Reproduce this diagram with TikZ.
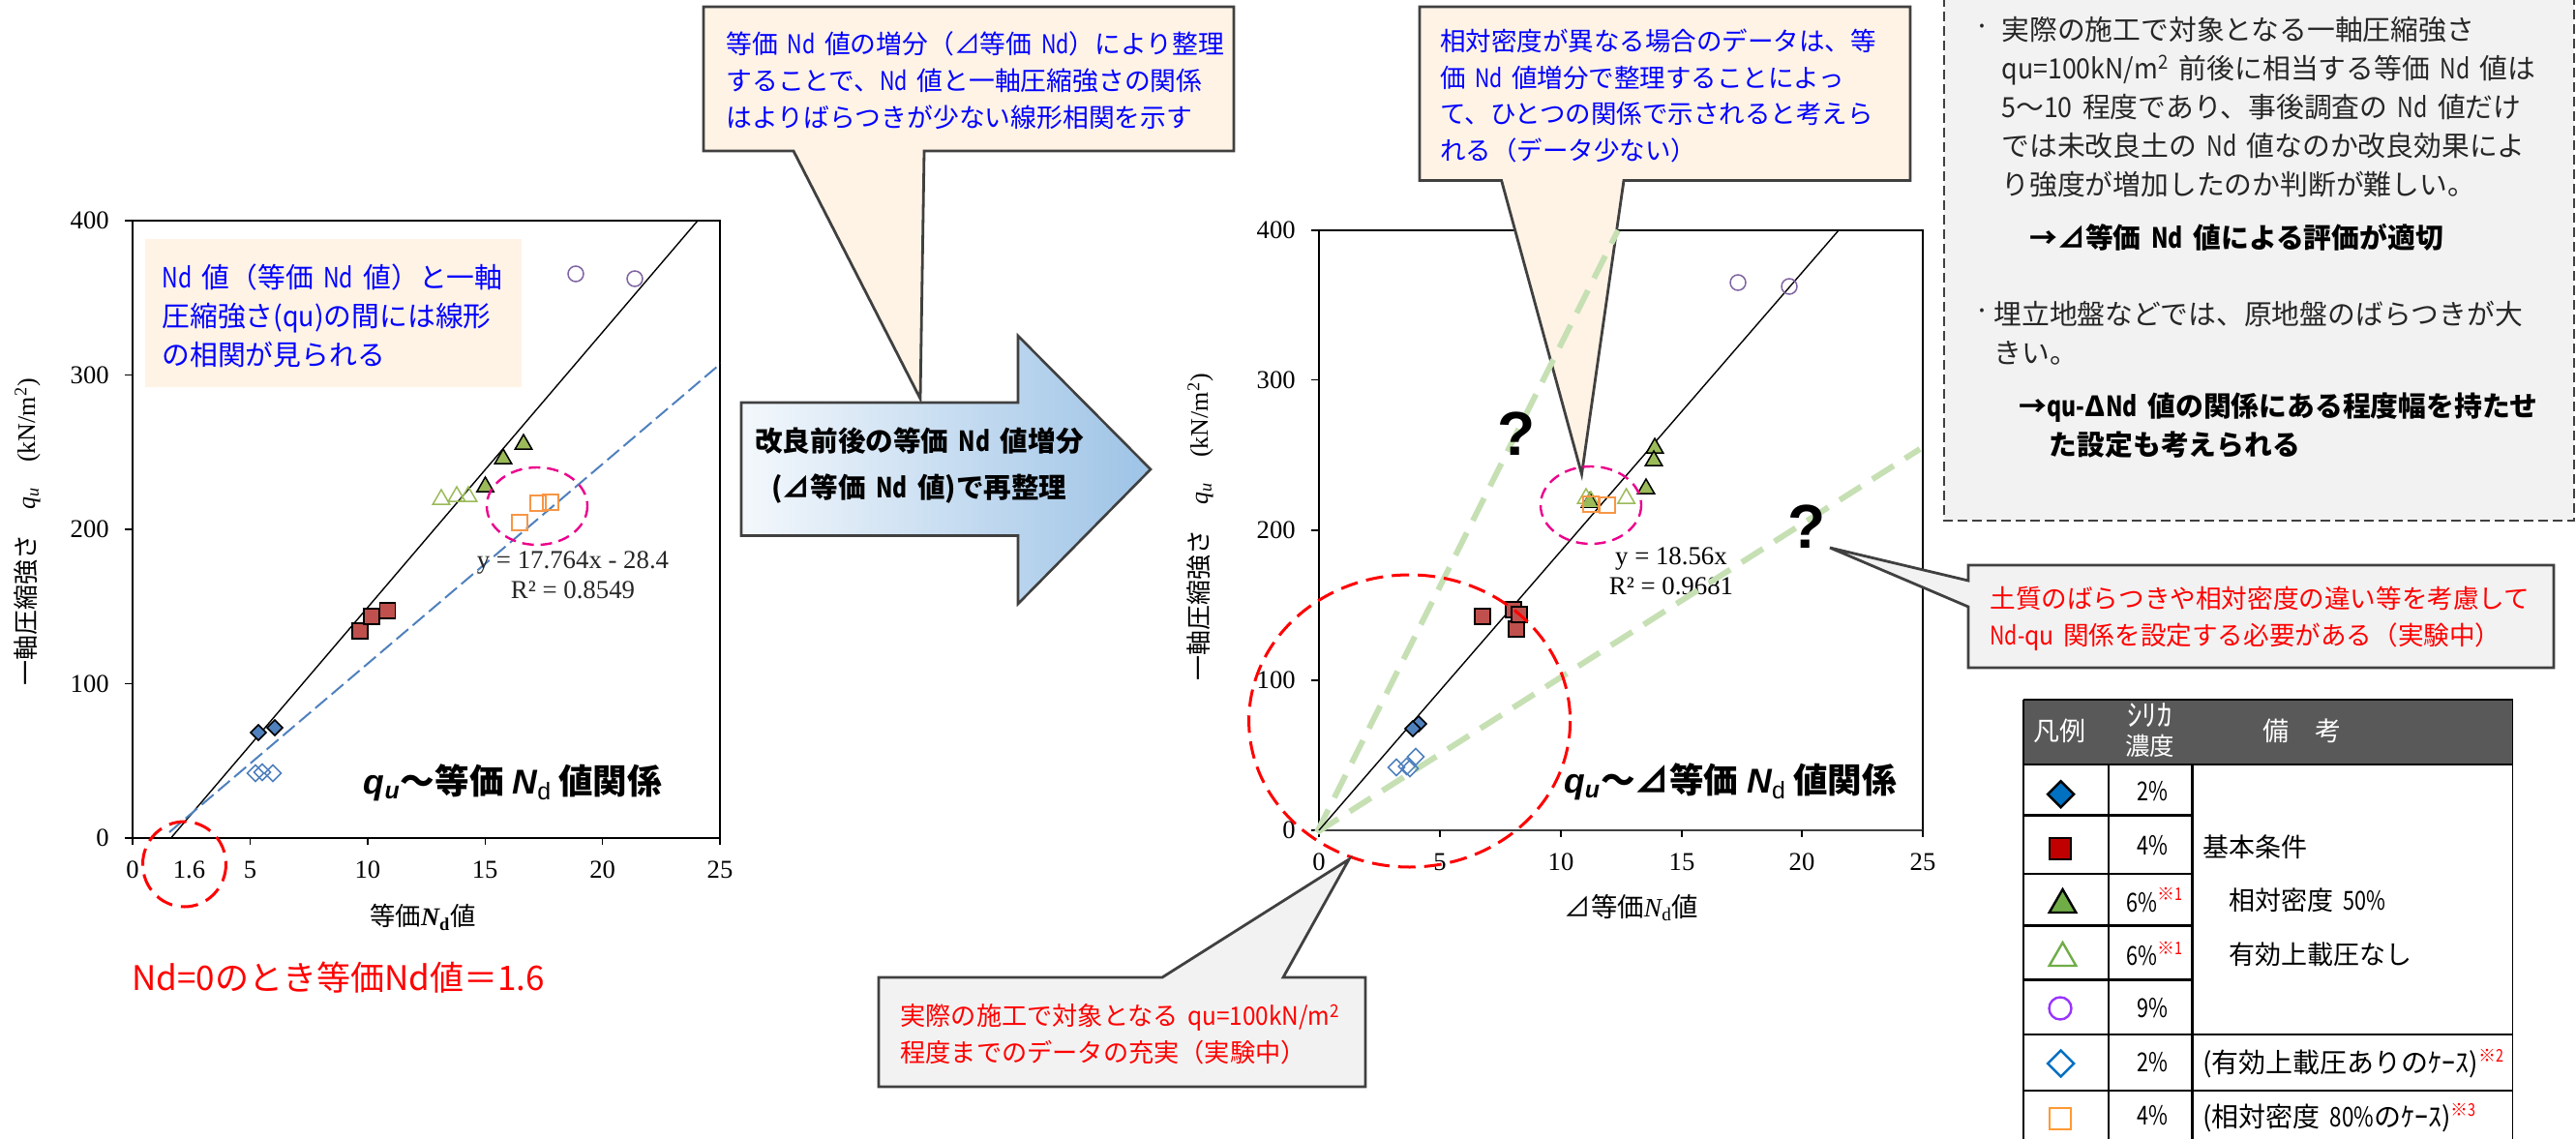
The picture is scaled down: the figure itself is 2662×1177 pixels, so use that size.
\documentclass[tikz,border=0pt]{standalone}
\usepackage{fontspec}
\usetikzlibrary{shapes.geometric}
\setmainfont[WordSpace=1.6]{Noto Sans CJK JP}
\newfontfamily\nar[FakeStretch=0.8,WordSpace=1.6]{Noto Sans CJK JP}
\newfontfamily\wid[FakeStretch=0.93]{Noto Sans CJK JP}
\newfontfamily\tmsf{Liberation Serif}
\newfontfamily\hlv{Liberation Sans}
\newcommand\lt[1]{{\nar #1}}
\newcommand\lw[1]{{\wid #1}}
\newcommand\fs[2]{\fontsize{#1}{#2}\selectfont}
\newcommand\nt[1]{\raisebox{.42em}{\fs{9}{9}\color{red}※\lt{#1}}}
\definecolor{beige}{HTML}{FFF3E5}
\definecolor{pale}{HTML}{F2F2F2}
\definecolor{edge}{HTML}{404040}
\definecolor{cb}{HTML}{4F81BD}
\definecolor{cr}{HTML}{C0504D}
\definecolor{cg}{HTML}{9BBB59}
\definecolor{cp}{HTML}{8064A2}
\definecolor{co}{HTML}{F79646}
\definecolor{gdash}{HTML}{C6E0B4}
\definecolor{lgb}{HTML}{0070C0}
\definecolor{lgr}{HTML}{C00000}
\definecolor{lgg}{HTML}{70AD47}
\definecolor{lgv}{HTML}{9933FF}
\definecolor{lgo}{HTML}{FF9933}
\definecolor{arl}{HTML}{F4F8FC}
\definecolor{arm}{HTML}{D8E6F5}
\definecolor{arr}{HTML}{9DC3E6}
\tikzset{
  lbl/.style={anchor=west,inner sep=0pt,align=left},
  tick/.style={inner sep=0pt,font=\fs{13.3}{15}\tmsf},
  eqn/.style={inner sep=0pt,align=center,font=\fs{13.4}{15.5}\tmsf,text=black!85},
  call/.style={draw=edge,line width=1.4pt,line join=miter},
  mk/.style={inner sep=0pt,outer sep=0pt,line width=.75pt},
  sdia/.style={mk,diamond,draw=black,fill=cb,minimum size=8pt},
  odia/.style={mk,diamond,draw=cb,minimum size=8.5pt},
  ssq/.style={mk,rectangle,draw=black,fill=cr,minimum size=8pt},
  osq/.style={mk,rectangle,draw=co,minimum size=8pt},
  stri/.style={mk,regular polygon,regular polygon sides=3,draw=black,fill=cg,minimum size=10pt},
  otri/.style={mk,regular polygon,regular polygon sides=3,draw=cg,minimum size=10pt},
  ocir/.style={mk,circle,draw=cp,minimum size=8pt},
  ldia/.style={inner sep=0pt,line width=1.2pt,diamond,minimum size=14pt},
  lsq/.style={inner sep=0pt,line width=1.2pt,rectangle,minimum size=11pt},
  ltri/.style={inner sep=0pt,line width=1.2pt,regular polygon,regular polygon sides=3,minimum size=16pt},
  lcir/.style={inner sep=0pt,line width=1.2pt,circle,minimum size=11.5pt},
  tblline/.style={line width=1.25pt,black},
  tcell/.style={inner sep=0pt,font=\fs{13.5}{16}},
  reddash/.style={draw=red,line width=1.5pt,dash pattern=on 9pt off 4.5pt},
  magdash/.style={draw=magenta,line width=1.2pt,dash pattern=on 6pt off 3.5pt},
  greendash/.style={draw=gdash,line width=3pt,dash pattern=on 13pt off 7pt}
}
\begin{document}
\begin{tikzpicture}[x=0.5pt,y=-0.5pt]
\useasboundingbox (0,0) rectangle (2662,1177);
\fill[white] (0,0) rectangle (2662,1177);

%% ---------- left chart
\draw[black,line width=.8pt] (137,228) rectangle (744,866);
\foreach \v in {228,387.5,547,706.5,866} \draw[black,line width=.7pt] (129,\v) -- (137,\v);
\foreach \v in {137,258.4,379.8,501.2,622.6,744} \draw[black,line width=.7pt] (\v,866) -- (\v,873);
\foreach \t/\v [count=\i] in {400/228,300/387.5,200/547,100/706.5,0/866}
  \node[tick,anchor=east] (ly\i) at (113,\v) {\t};
\foreach \t/\v [count=\i] in {0/137,5/258.4,10/379.8,15/501.2,20/622.6,25/744}
  \node[tick] (lx\i) at (\v,899) {\t};
\node[tick] (l16) at (195.5,899) {1.6};
\node[inner sep=0pt,font=\fs{13.2}{15}] (lxlab) at (437,948) {等価{\tmsf\bfseries\itshape N}\textsubscript{\tmsf\bfseries d}値};
\node[inner sep=0pt,rotate=90,font=\fs{13}{15}] (lylab) at (28,550) {一軸圧縮強さ\quad{\tmsf\itshape q\textsubscript{u}}\quad{\tmsf (kN/m\textsuperscript{2})}};

\fill[beige] (150,247) rectangle (539,400);
\node[lbl,text=blue,font=\fs{14.4}{20}] (lnote) at (167,326) {\lt{Nd} 値（等価 \lt{Nd} 値）と一軸\\圧縮強さ(\lw{qu})の間には線形\\の相関が見られる};

\coordinate (la) at (176.6,866); \coordinate (lb) at (721,228);
\draw[black,line width=.7pt] (la) -- (lb);
\coordinate (lc) at (175,860); \coordinate (ld) at (745,375.5);
\draw[cb,line width=1pt,dash pattern=on 8pt off 3pt] (lc) -- (ld);

\foreach \x/\y [count=\i] in {267/757,284/752} \node[sdia] (lsd\i) at (\x,\y) {};
\foreach \x/\y [count=\i] in {264/799,271/798,282/799} \node[odia] (lod\i) at (\x,\y) {};
\foreach \x/\y [count=\i] in {372/652,384/637,400.5/631} \node[ssq] (lss\i) at (\x,\y) {};
\foreach \x/\y [count=\i] in {501.5/503,520/474,541/459} \node[stri] (lst\i) at (\x,\y) {};
\foreach \x/\y [count=\i] in {456/516,472/513,484/513} \node[otri] (lot\i) at (\x,\y) {};
\foreach \x/\y [count=\i] in {595/283,656/288} \node[ocir] (lc\i) at (\x,\y) {};
\foreach \x/\y [count=\i] in {537/540,556/520,569/519} \node[osq] (los\i) at (\x,\y) {};

\draw[magdash] (555,523) ellipse [x radius=52,y radius=40];
\draw[reddash] (190.5,893) ellipse [x radius=43,y radius=44];
\node[eqn] (leq) at (592,594) {y = 17.764x - 28.4\\R² = 0.8549};
\node[inner sep=0pt,font=\fs{17.8}{20}\bfseries] (ltitle) at (530,809) {{\hlv\itshape q\textsubscript{u}}～等価\hspace{.25em}{\hlv\itshape N}\textsubscript{\normalfont\hlv d}\hspace{.2em}値関係};
\node[lbl,text=red,font=\fs{17.5}{20}] (lred) at (136,1010) {Nd=0のとき等価Nd値＝1.6};

%% ---------- right chart
\draw[black,line width=.8pt] (1363,858) -- (1363,238) -- (1987,238) -- (1987,858);
\draw[edge,line width=1.3pt] (1363,858) -- (1987,858);
\foreach \v in {238,392.6,548,703,858} \draw[black,line width=.7pt] (1355,\v) -- (1363,\v);
\foreach \v in {1363,1488,1613,1738,1862,1987} \draw[black,line width=.7pt] (\v,858) -- (\v,865);
\foreach \t/\v [count=\i] in {400/238,300/392.6,200/548,100/703,0/858}
  \node[tick,anchor=east] (ry\i) at (1339,\v) {\t};
\foreach \t/\v [count=\i] in {0/1363,5/1488,10/1613,15/1738,20/1862,25/1987}
  \node[tick] (rx\i) at (\v,890.7) {\t};
\node[inner sep=0pt,font=\fs{13.7}{15}] (rxlab) at (1686,938) {⊿等価{\tmsf\itshape N}\textsubscript{\tmsf d}値};
\node[inner sep=0pt,rotate=90,font=\fs{13}{15}] (rylab) at (1240,545) {一軸圧縮強さ\quad{\tmsf\itshape q\textsubscript{u}}\quad{\tmsf (kN/m\textsuperscript{2})}};
\node[eqn,text=black] (req) at (1727,590.5) {y = 18.56x\\R² = 0.9681};

%% callout over the frame, under the green guide lines
\path[call,fill=beige] (1467,7) -- (1974,7) -- (1974,186.5) -- (1678,186.5) -- (1634.5,490) -- (1551.6,186.5) -- (1467,186.5) -- cycle;
\node[lbl,text=blue,font=\fs{13.25}{18.75}] (c2) at (1488,99) {相対密度が異なる場合のデータは、等\\価 \lt{Nd} 値増分で整理することによっ\\て、ひとつの関係で示されると考えら\\れる（データ少ない）};

\coordinate (ro) at (1361,860); \coordinate (rg1) at (1672,238); \coordinate (rg2) at (1984,464);
\draw[greendash] (ro) -- (rg1);
\draw[greendash] (ro) -- (rg2);
\coordinate (rb) at (1900,238);
\draw[black,line width=.7pt] (1363,858) -- (rb);

\foreach \x/\y [count=\i] in {1466/748,1460/753} \node[sdia] (rsd\i) at (\x,\y) {};
\foreach \x/\y [count=\i] in {1443/793,1453.6/792,1457/794,1463/782} \node[odia] (rod\i) at (\x,\y) {};
\foreach \x/\y [count=\i] in {1532/637,1564/630,1567/650,1570/635} \node[ssq] (rss\i) at (\x,\y) {};
\foreach \x/\y [count=\i] in {1710/463,1709/476,1701/505,1643/519} \node[stri] (rst\i) at (\x,\y) {};
\foreach \x/\y [count=\i] in {1639/515,1644/518,1680.6/515} \node[otri] (rot\i) at (\x,\y) {};
\foreach \x/\y [count=\i] in {1796/292,1849/296} \node[ocir] (rc\i) at (\x,\y) {};
\foreach \x/\y [count=\i] in {1644/521,1661/522} \node[osq] (ros\i) at (\x,\y) {};

\draw[magdash] (1644,522) ellipse [x radius=52,y radius=40];
\draw[reddash] (1456.6,745) ellipse [x radius=166,y radius=151];
\node[inner sep=0pt,font=\fs{32}{34}\bfseries\hlv] (q1) at (1567,448) {?};
\node[inner sep=0pt,font=\fs{32}{34}\bfseries\hlv] (q2) at (1867.5,544) {?};
\node[inner sep=0pt,font=\fs{17.8}{20}\bfseries] (rtitle) at (1788,808) {{\hlv\itshape q\textsubscript{u}}～⊿等価\hspace{.25em}{\hlv\itshape N}\textsubscript{\normalfont\hlv d}\hspace{.2em}値関係};

%% ---------- block arrow
\path[draw=edge,line width=1.3pt,left color=arl,middle color=arm,right color=arr,line join=miter]
  (766,416) -- (1052,416) -- (1052,347) -- (1189,485) -- (1052,624) -- (1052,553.5) -- (766,553.5) -- cycle;
\node[inner sep=0pt,align=center,font=\fs{14.3}{24}\bfseries] (arrtxt) at (950,481) {改良前後の等価 \lt{Nd} 値増分\\(⊿等価 \lt{Nd} 値)で再整理};

%% ---------- callouts
\path[call,fill=beige] (727,7) -- (1275,7) -- (1275,156) -- (955,156) -- (951,412) -- (820,156) -- (727,156) -- cycle;
\node[lbl,text=blue,font=\fs{13.4}{19}] (c1) at (750,83) {等価 \lt{Nd} 値の増分（⊿等価 \lt{Nd}）により整理\\することで、\lt{Nd} 値と一軸圧縮強さの関係\\はよりばらつきが少ない線形相関を示す};
\path[call,fill=pale] (908,1010) -- (1201,1010) -- (1394,888) -- (1326,1010) -- (1411,1010) -- (1411,1123) -- (908,1123) -- cycle;
\node[lbl,text=red,font=\fs{13.1}{19}] (c3) at (930,1069) {実際の施工で対象となる \lw{qu=100kN/m\textsuperscript{2}}\\程度までのデータの充実（実験中）};
\path[call,fill=pale] (2034,584) -- (2639,584) -- (2639,690) -- (2034,690) -- (2034,627) -- (1891,566) -- (2034,600) -- cycle;
\node[lbl,text=red,font=\fs{13.3}{19}] (c4) at (2056,639) {土質のばらつきや相対密度の違い等を考慮して\\\lt{Nd-}\lw{qu} 関係を設定する必要がある（実験中）};

%% ---------- dashed note box
\path[fill=pale,draw=edge,line width=.8pt,dash pattern=on 5pt off 2.5pt] (2009,-3) rectangle (2660,538);
\node[lbl,font=\fs{14.4}{20},text=black!85] (n0) at (2040,31) {·};
\node[lbl,font=\fs{14.4}{20},text=black!85] (n1) at (2068,111) {実際の施工で対象となる一軸圧縮強さ\\\lw{qu=100kN/m\textsuperscript{2}} 前後に相当する等価 \lt{Nd} 値は\\\lw{5}～\lw{10} 程度であり、事後調査の \lt{Nd} 値だけ\\では未改良土の \lt{Nd} 値なのか改良効果によ\\り強度が増加したのか判断が難しい。};
\node[lbl,font=\fs{14.4}{20}\bfseries] (n2) at (2097,245) {→⊿等価 \lt{Nd} 値による評価が適切};
\node[lbl,font=\fs{14.4}{20},text=black!85] (n3) at (2040,325) {·};
\node[lbl,font=\fs{14.4}{20},text=black!85] (n4) at (2060,344.5) {埋立地盤などでは、原地盤のばらつきが大\\きい。};
\node[lbl,font=\fs{14.4}{20}\bfseries] (n5) at (2086.5,439.5) {→\lt{qu-}Δ\lt{Nd} 値の関係にある程度幅を持たせ\\\hspace{15.5pt}た設定も考えられる};

%% ---------- legend table
\fill[black!65] (2091,723) rectangle (2596.5,790);
\draw[tblline] (2091,723) -- (2596.5,723);
\draw[tblline] (2091,790) -- (2596.5,790);
\draw[black,line width=.8pt] (2091,723) -- (2091,1177);
\draw[black,line width=.8pt] (2596.5,723) -- (2596.5,1177);
\draw[tblline] (2179,790) -- (2179,1177);
\draw[tblline] (2265.4,790) -- (2265.4,1177);
\foreach \v in {842.7,903,956.7,1012.7} \draw[tblline] (2091,\v) -- (2265.4,\v);
\foreach \v in {1069,1127} \draw[tblline] (2091,\v) -- (2596.5,\v);
\node[tcell,text=white] (h1) at (2128,755) {凡例};
\node[inner sep=0pt,text=white,align=center,font=\fs{12.7}{15}] (h2) at (2221.5,755) {{\fs{15.5}{15}ｼﾘｶ}\\濃度};
\node[tcell,text=white] (h3) at (2379,755) {備　考};

\node[ldia,draw=black,fill=lgb] (s1) at (2129.6,820.7) {};
\node[lsq,draw=black,fill=lgr] (s2) at (2129,877) {};
\node[ltri,draw=black,fill=lgg] (s3) at (2131.5,935) {};
\node[ltri,draw=lgg] (s4) at (2131.5,990) {};
\node[lcir,draw=lgv] (s5) at (2129,1042) {};
\node[ldia,draw=lgb] (s6) at (2129.6,1099) {};
\node[lsq,draw=lgo] (s7) at (2129,1156) {};

\node[tcell] (p1) at (2224.6,818) {\lt{2\%}};
\node[tcell] (p2) at (2224.6,874) {\lt{4\%}};
\node[tcell,anchor=west] (p3) at (2197,930) {\lt{6\%}\nt{1}};
\node[tcell,anchor=west] (p4) at (2197,985.7) {\lt{6\%}\nt{1}};
\node[tcell] (p5) at (2224.6,1042) {\lt{9\%}};
\node[tcell] (p6) at (2224.6,1098) {\lt{2\%}};
\node[tcell] (p7) at (2224.6,1153) {\lt{4\%}};
\node[tcell,anchor=west] (r1) at (2276.5,875) {基本条件};
\node[tcell,anchor=west] (r2) at (2303,930.7) {相対密度 \lt{50\%}};
\node[tcell,anchor=west] (r3) at (2303,986.7) {有効上載圧なし};
\node[tcell,anchor=west,font=\fs{14}{16}] (r4) at (2276,1099) {(有効上載圧ありのｹｰｽ)\nt{2}};
\node[tcell,anchor=west,font=\fs{14}{16}] (r5) at (2276,1155) {(相対密度 \lt{80\%}のｹｰｽ)\nt{3}};
\end{tikzpicture}
\end{document}
